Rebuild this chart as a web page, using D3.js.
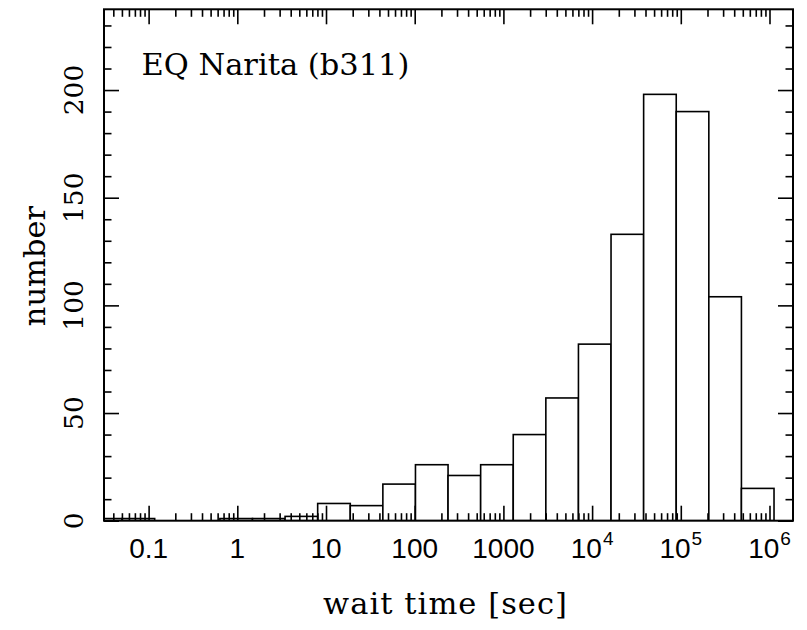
<!DOCTYPE html>
<html>
<head>
<meta charset="utf-8">
<script src="https://cdn.jsdelivr.net/npm/d3@7"></script>
<style>
  body { margin: 0; background: #fff; }
  text { fill: #000; }
</style>
</head>
<body>
<svg id="chart" width="807" height="630"></svg>
<script>

// histogram: bin edges in log10(sec), counts per bin
var binEdges = [-1.6665, -1.299, -0.9315, -0.564, -0.1965, 0.171, 0.5385, 0.906, 1.2735, 1.641,
                2.0085, 2.376, 2.7435, 3.111, 3.4785, 3.846, 4.2135, 4.581, 4.9485, 5.316, 5.6835, 6.051];
var counts = [1, 1, 0, 0, 1, 1, 2, 8, 7, 17, 26, 21, 26, 40, 57, 82, 133, 198, 190, 104, 15];

var xMajor = [0.1, 1, 10, 100, 1000, 1e4, 1e5, 1e6];
var xLabels = [["0.1"], ["1"], ["10"], ["100"], ["1000"], ["10", "4"], ["10", "5"], ["10", "6"]];
var yMajor = [0, 50, 100, 150, 200];
var yLabels = ["0", "50", "100", "150", "200"];

var title = "EQ Narita (b311)";
var xTitle = "wait time [sec]";
var yTitle = "number";

var serif = "DejaVu Serif, Liberation Serif, serif";

var svg = d3.select("#chart"),
    margin = {top: 9.3, right: 14, bottom: 109.3, left: 104},
    width = 807 - margin.left - margin.right,
    height = 630 - margin.top - margin.bottom;

var g = svg.append("g").attr("transform", "translate(" + margin.left + "," + margin.top + ")");

var x = d3.scaleLog()
  .domain([Math.pow(10, -1.503), Math.pow(10, 6.265)])
  .range([0, width]);

var y = d3.scaleLinear()
  .domain([0, 237.5])
  .range([height, 0]);

// minor ticks 2..9 per decade inside the domain
var xMinor = [];
for (var e = -2; e <= 6; e++){
  for (var m = 2; m <= 9; m++){
    var v = m * Math.pow(10, e);
    if (v >= x.domain()[0] && v <= x.domain()[1]) xMinor.push(v);
  }
}
var yMinor = d3.range(0, 237, 10).filter(function(d){ return d % 50 != 0; });

g.append("defs").append("clipPath").attr("id", "clip")
  .append("rect").attr("width", width).attr("height", height);

// bars
var bars = [];
for (var i = 0; i < counts.length; i++){
  if (counts[i] > 0) bars.push({x0: Math.pow(10, binEdges[i]), x1: Math.pow(10, binEdges[i + 1]), n: counts[i]});
}

g.append("g").attr("clip-path", "url(#clip)")
  .selectAll("rect")
  .data(bars)
  .enter()
  .append("rect")
    .attr("x", function(d){ return x(d.x0); })
    .attr("y", function(d){ return y(d.n); })
    .attr("width", function(d){ return x(d.x1) - x(d.x0); })
    .attr("height", function(d){ return y(0) - y(d.n); })
    .attr("fill", "#fff")
    .attr("stroke", "#000")
    .attr("stroke-width", 1.6);

// axes, ticks pointing inward on all four sides
function tickStyle(sel){
  sel.select(".domain").remove();
  sel.selectAll("line").attr("stroke", "#000").attr("stroke-width", 1.6);
  sel.selectAll("text").remove();
}

g.append("g").attr("transform", "translate(0," + height + ")")
  .call(d3.axisBottom(x).tickValues(xMajor).tickSize(-15)).call(tickStyle);
g.append("g").attr("transform", "translate(0," + height + ")")
  .call(d3.axisBottom(x).tickValues(xMinor).tickSize(-7.5)).call(tickStyle);
g.append("g")
  .call(d3.axisTop(x).tickValues(xMajor).tickSize(-15)).call(tickStyle);
g.append("g")
  .call(d3.axisTop(x).tickValues(xMinor).tickSize(-7.5)).call(tickStyle);

g.append("g")
  .call(d3.axisLeft(y).tickValues(yMajor).tickSize(-15)).call(tickStyle);
g.append("g")
  .call(d3.axisLeft(y).tickValues(yMinor).tickSize(-7.5)).call(tickStyle);
g.append("g").attr("transform", "translate(" + width + ",0)")
  .call(d3.axisRight(y).tickValues(yMajor).tickSize(-15)).call(tickStyle);
g.append("g").attr("transform", "translate(" + width + ",0)")
  .call(d3.axisRight(y).tickValues(yMinor).tickSize(-7.5)).call(tickStyle);

// frame
g.append("rect")
  .attr("width", width).attr("height", height)
  .attr("fill", "none").attr("stroke", "#000").attr("stroke-width", 2);

// x tick labels
g.selectAll(".xlab")
  .data(xMajor)
  .enter()
  .append("text")
    .attr("class", "xlab")
    .attr("x", function(d){ return x(d); })
    .attr("y", height + 37)
    .attr("text-anchor", "middle")
    .attr("font-family", "Liberation Sans, Arial, sans-serif")
    .attr("font-size", 28)
    .each(function(d, i){
      var t = d3.select(this);
      t.append("tspan").text(xLabels[i][0]);
      if (xLabels[i].length > 1){
        t.append("tspan").attr("dy", -13).attr("dx", 1).attr("font-size", 19).text(xLabels[i][1]);
      }
    });

// y tick labels (rotated)
g.selectAll(".ylab")
  .data(yMajor)
  .enter()
  .append("text")
    .attr("class", "ylab")
    .attr("transform", function(d){ return "translate(-21," + y(d) + ") rotate(-90)"; })
    .attr("text-anchor", "middle")
    .attr("font-family", serif)
    .attr("font-size", 26.5)
    .text(function(d, i){ return yLabels[i]; });

// titles
g.append("text")
  .attr("x", 37.5).attr("y", 66)
  .attr("font-family", serif)
  .attr("font-size", 30.5)
  .text(title);

svg.append("text")
  .attr("x", 445).attr("y", 614)
  .attr("text-anchor", "middle")
  .attr("font-family", serif)
  .attr("font-size", 30.5)
  .attr("textLength", 244)
  .attr("lengthAdjust", "spacing")
  .text(xTitle);

svg.append("text")
  .attr("transform", "translate(45,266) rotate(-90)")
  .attr("text-anchor", "middle")
  .attr("font-family", serif)
  .attr("font-size", 30.5)
  .text(yTitle);

</script>
</body>
</html>
